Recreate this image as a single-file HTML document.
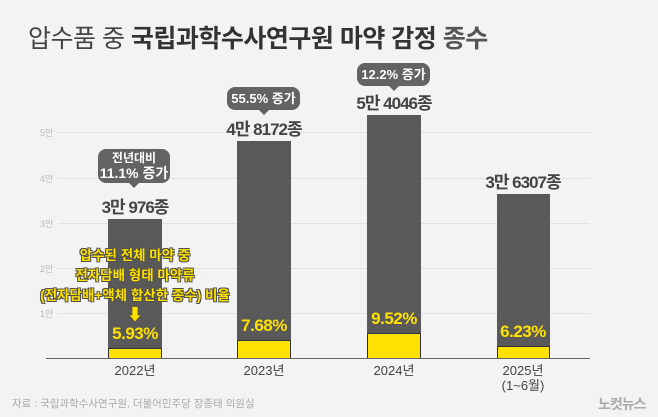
<!DOCTYPE html>
<html><head><meta charset="utf-8"><style>
body{margin:0;width:658px;height:417px;background:#f3f3f3;font-family:"Liberation Sans","Noto Sans CJK KR",sans-serif;position:relative;overflow:hidden}
.a{position:absolute;white-space:nowrap}
.g{position:absolute;left:58px;width:532px;height:1px;background:#e2e2e2}
.t{position:absolute;font-size:9px;color:#bbb;left:40px}
.bar{position:absolute;background:#595959}
.y{position:absolute;background:#ffe100;border:1px solid #333;box-sizing:border-box}
.lab{position:absolute;font-size:17px;line-height:18px;font-weight:bold;color:#444;letter-spacing:-1px;transform:translateX(-50%);white-space:nowrap}
.pct{position:absolute;font-size:17px;font-weight:bold;color:#ffe100;transform:translateX(-50%);letter-spacing:-0.5px}
.bub{position:absolute;background:#636363;color:#fff;border-radius:8px;text-align:center;font-weight:bold;font-size:13px}
.bub:after{content:"";position:absolute;left:50%;margin-left:-5px;border:5px solid transparent;border-top-color:#636363;border-bottom:0;width:0;height:0;bottom:-5px}
.yr{position:absolute;font-size:13px;color:#444;transform:translateX(-50%);text-align:center;line-height:15px}
</style></head><body>
<div class="a" style="left:28px;top:19px;font-size:25px;color:#555;font-weight:bold;letter-spacing:-0.5px"><span style="font-weight:normal;color:#444">압수품 중</span> <span style="color:#333">국립과학수사연구원 마약 감정</span> <span style="color:#555">종수</span></div>
<div class="g" style="top:132px"></div><div class="g" style="top:178px"></div><div class="g" style="top:223px"></div><div class="g" style="top:268px"></div><div class="g" style="top:313px"></div>
<div class="t" style="top:126px">5만</div><div class="t" style="top:172px">4만</div><div class="t" style="top:217px">3만</div><div class="t" style="top:262px">2만</div><div class="t" style="top:307px">1만</div>
<div class="bar" style="left:108px;width:54px;top:219px;height:139px"></div>
<div class="bar" style="left:237px;width:54px;top:141px;height:217px"></div>
<div class="bar" style="left:367px;width:54px;top:115px;height:243px"></div>
<div class="bar" style="left:497px;width:53px;top:194px;height:164px"></div>
<div class="y" style="left:108px;width:54px;top:348px;height:11px"></div>
<div class="y" style="left:237px;width:54px;top:340px;height:19px"></div>
<div class="y" style="left:367px;width:54px;top:333px;height:26px"></div>
<div class="y" style="left:497px;width:53px;top:346px;height:13px"></div>
<div class="a" style="left:46px;top:358px;width:544px;height:1px;background:#666"></div>
<div class="lab" style="left:135px;top:199px">3만 976종</div>
<div class="lab" style="left:264px;top:121px">4만 8172종</div>
<div class="lab" style="left:394px;top:95px">5만 4046종</div>
<div class="lab" style="left:523px;top:174px">3만 6307종</div>
<div class="bub" style="left:98px;top:149px;width:72px;height:34px;font-size:12px;line-height:15px;padding-top:2px;box-sizing:border-box">전년대비<br><span style="font-size:14px">11.1% 증가</span></div>
<div class="bub" style="left:227px;top:87px;width:73px;height:23px;line-height:23px">55.5% 증가</div>
<div class="bub" style="left:357px;top:63px;width:73px;height:23px;line-height:23px">12.2% 증가</div>
<div class="a" style="left:135px;top:246px;transform:translateX(-50%);text-align:center;font-size:13.5px;font-weight:bold;color:#ffe100;line-height:20px;text-shadow:0 0 1px #333,1px 1px 0 #555,-1px -1px 0 #555,1px -1px 0 #555,-1px 1px 0 #555">압수된 전체 마약 중<br>전자담배 형태 마약류<br>(전자담배+액체 합산한 종수) 비율<br><span style="font-size:16px">⬇</span></div>
<div class="pct" style="left:135px;top:324px">5.93%</div>
<div class="pct" style="left:264px;top:316px">7.68%</div>
<div class="pct" style="left:394px;top:309px">9.52%</div>
<div class="pct" style="left:523px;top:322px">6.23%</div>
<div class="yr" style="left:135px;top:363px">2022년</div>
<div class="yr" style="left:264px;top:363px">2023년</div>
<div class="yr" style="left:394px;top:363px">2024년</div>
<div class="yr" style="left:523px;top:363px">2025년<br>(1~6월)</div>
<div class="a" style="left:12px;top:396px;font-size:10.5px;color:#aaa">자료 : 국립과학수사연구원, 더불어민주당 장종태 의원실</div>
<div class="a" style="left:598px;top:394px;font-size:14px;font-weight:bold;color:#aaa;letter-spacing:-1px">노컷뉴스</div>
</body></html>
